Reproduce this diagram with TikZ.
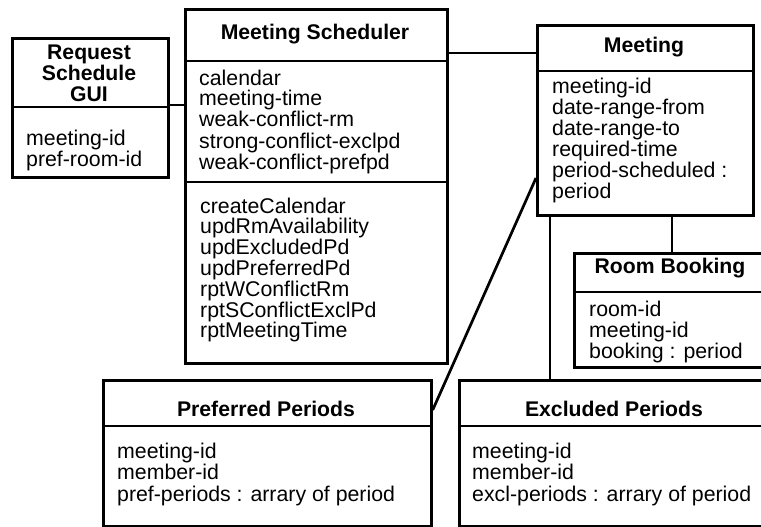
\documentclass[tikz,border=0pt]{standalone}
\usepackage{fontspec}
\setmainfont{Liberation Sans}
\begin{document}
\begin{tikzpicture}[x=1pt,y=-1pt,
  cls/.style={draw, line width=2.7pt, rectangle, inner sep=0pt, anchor=north west},
  divider/.style={line width=2.5pt},
  conn/.style={line width=2.7pt},
  title/.style={font=\fontsize{21.2}{21}\selectfont\bfseries, inner sep=0pt, anchor=base, align=center},
  attr/.style={font=\fontsize{21.3}{21}\selectfont, inner sep=0pt, anchor=base west}]
\useasboundingbox (0,0) rectangle (761,527);
\clip (0,0) rectangle (761,527);
% boxes
\node[cls, minimum width=156pt, minimum height=139pt] (gui) at (11,37) {};
\node[cls, minimum width=262pt, minimum height=354pt] (sched) at (184,8) {};
\node[cls, minimum width=216pt, minimum height=190pt] (meet) at (536,24) {};
\node[cls, minimum width=195pt, minimum height=114pt] (room) at (573,252) {};
\node[cls, minimum width=328pt, minimum height=146pt] (pref) at (102,379) {};
\node[cls, minimum width=312pt, minimum height=146pt] (excl) at (458,379) {};
% dividers
\draw[divider] (gui.west |- 0,107) -- (gui.east |- 0,107);
\draw[divider] (sched.west |- 0,61) -- (sched.east |- 0,61);
\draw[divider] (sched.west |- 0,182) -- (sched.east |- 0,182);
\draw[divider] (meet.west |- 0,71) -- (meet.east |- 0,71);
\draw[divider] (room.west |- 0,292) -- (room.east |- 0,292);
\draw[divider] (pref.west |- 0,426) -- (pref.east |- 0,426);
\draw[divider] (excl.west |- 0,426) -- (excl.east |- 0,426);
% titles
\node[title] (gui-t1) at (89,60) {Request};
\node[title] (gui-t2) at (89,81) {Schedule};
\node[title] (gui-t3) at (89,102) {GUI};
\node[title] (sched-t) at (315,40) {Meeting Scheduler};
\node[title] (meet-t) at (644,53) {Meeting};
\node[title] (room-t) at (670,273) {Room Booking};
\node[title] (pref-t) at (266,416) {Preferred Periods};
\node[title] (excl-t) at (614,416) {Excluded Periods};
% attributes
\foreach \t [count=\i] in {meeting-id, pref-room-id}
  \node[attr] (gui-a\i) at (26,{145+(\i-1)*21}) {\t};
\foreach \t [count=\i] in {calendar, meeting-time, weak-conflict-rm, strong-conflict-exclpd, weak-conflict-prefpd}
  \node[attr] (sched-a\i) at (199,{85+(\i-1)*21}) {\t};
\foreach \t [count=\i] in {createCalendar, updRmAvailability, updExcludedPd, updPreferredPd, rptWConflictRm, rptSConflictExclPd, rptMeetingTime}
  \node[attr] (sched-m\i) at (200,{213+(\i-1)*20.8}) {\t};
\foreach \t [count=\i] in {meeting-id, date-range-from, date-range-to, required-time, period-scheduled :, period}
  \node[attr] (meet-a\i) at (552,{94+(\i-1)*20.8}) {\t};
\foreach \t [count=\i] in {room-id, meeting-id, booking : period}
  \node[attr] (room-a\i) at (589,{316+(\i-1)*21}) {\t};
\foreach \t [count=\i] in {meeting-id, member-id, pref-periods : arrary of period}
  \node[attr] (pref-a\i) at (117,{458+(\i-1)*21.5}) {\t};
\foreach \t [count=\i] in {meeting-id, member-id, excl-periods : arrary of period}
  \node[attr] (excl-a\i) at (472,{458+(\i-1)*21.5}) {\t};
% connectors
\draw[conn] (gui.east |- 0,105) -- (sched.west |- 0,105);
\draw[conn] (sched.east |- 0,53) -- (meet.west |- 0,53);
\draw[conn] (meet.west |- 0,178) -- (pref.east |- 0,410);
\draw[conn] (meet.south -| 550,0) -- (excl.north -| 550,0);
\draw[conn] (meet.south -| 672,0) -- (room.north -| 672,0);
\end{tikzpicture}
\end{document}
